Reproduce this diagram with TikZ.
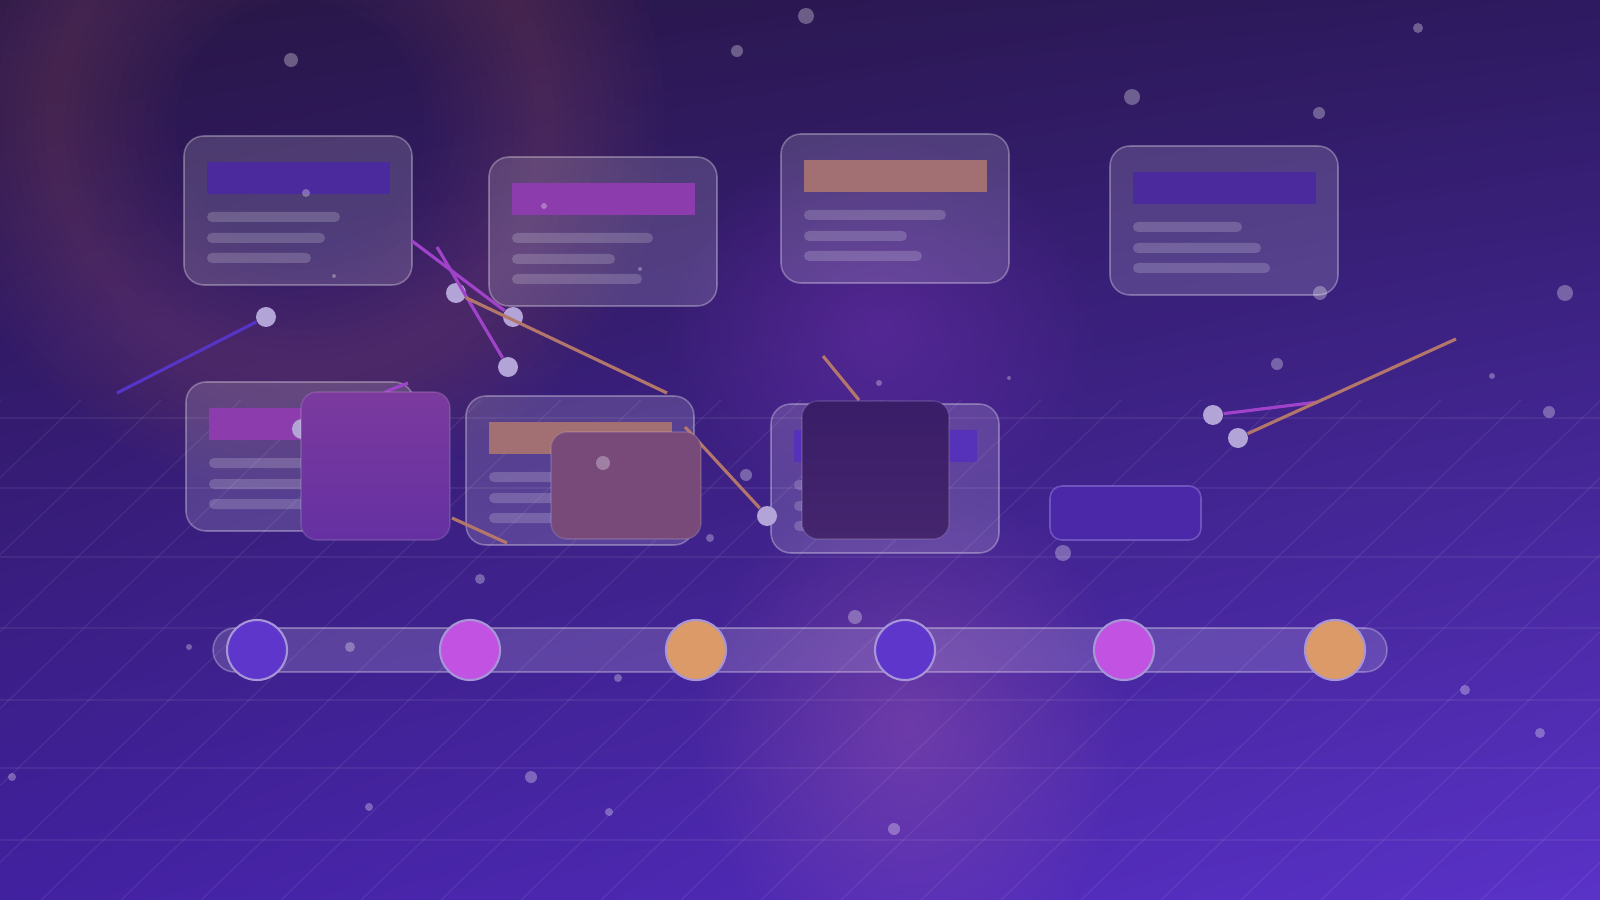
\documentclass[tikz,border=0pt]{standalone}
\usepackage{tikz}
\usetikzlibrary{fadings,shadings}

\definecolor{bgtl}{HTML}{281644}
\definecolor{bgtr}{HTML}{2D1A60}
\definecolor{bgbl}{HTML}{4221A0}
\definecolor{bgbr}{HTML}{5A32C8}
\definecolor{ringmauve}{HTML}{7A4A68}
\definecolor{glowviolet}{HTML}{7030B0}
\definecolor{glowpink}{HTML}{9A55B0}
\definecolor{hdindigo}{HTML}{4B2A9E}
\definecolor{hdmagenta}{HTML}{8C3CAC}
\definecolor{hdsalmon}{HTML}{A27072}
\definecolor{hdblue}{HTML}{5632BA}
\definecolor{lineindigo}{HTML}{5634C4}
\definecolor{linemagenta}{HTML}{A042CA}
\definecolor{linesalmon}{HTML}{B2766A}
\definecolor{dotlav}{HTML}{B2A4D6}
\definecolor{ringlav}{HTML}{A696D8}
\definecolor{msindigo}{HTML}{5F36CC}
\definecolor{msmagenta}{HTML}{C252E2}
\definecolor{msorange}{HTML}{DB9A68}
\definecolor{sqpurpletop}{HTML}{7B3A9E}
\definecolor{sqpurple}{HTML}{6530A2}
\definecolor{sqmauve}{HTML}{774A7A}
\definecolor{sqdarktop}{HTML}{3A1D68}
\definecolor{sqdark}{HTML}{44256E}
\definecolor{pillfill}{HTML}{4A28A8}
\definecolor{pillline}{HTML}{6E54BC}

\tikzfading[name=glowfade, inner color=transparent!0, outer color=transparent!100]

\newcommand{\glasscard}[6]{%
	\draw[cardbox] (#1,#2) rectangle ++(228,149);
	\fill[#3] (#1+23,#2+26) rectangle ++(183,32);
	\fill[textbar] (#1+23,#2+76) rectangle ++(#4,10);
	\fill[textbar] (#1+23,#2+97) rectangle ++(#5,10);
	\fill[textbar] (#1+23,#2+117) rectangle ++(#6,10);
}

\begin{document}
\begin{tikzpicture}[x=0.1mm, y=-0.1mm,
	cardbox/.style={fill=white, fill opacity=0.15, draw=white, draw opacity=0.3, line width=0.45pt, rounded corners=2mm},
	textbar/.style={fill=white, fill opacity=0.18, rounded corners=0.5mm},
	gridline/.style={white, opacity=0.08, line width=0.3pt},
	speck/.style={fill=white, fill opacity=0.3},
	bigdot/.style={circle, fill=dotlav, inner sep=0pt, minimum size=2mm},
	link/.style={line width=0.9pt},
	milestone/.style={draw=ringlav, line width=0.6pt},
	overlay box/.style={draw=white, draw opacity=0.12, line width=0.45pt, rounded corners=1.6mm}]
	\useasboundingbox (0,0) rectangle (1600,900);

	% background and glows
	\shade[upper left=bgtl, upper right=bgtr, lower left=bgbl, lower right=bgbr] (0,0) rectangle (1600,900);
	\begin{scope}
		\clip (0,0) rectangle (1600,900);
		\foreach \w in {2,4,...,24}
			\draw[ringmauve, opacity=0.04, line width=\w mm] (300,125) circle (245);
	\end{scope}
	\fill[glowviolet, opacity=0.5, path fading=glowfade] (880,330) ellipse (220 and 200);
	\fill[glowpink, opacity=0.45, path fading=glowfade] (910,730) ellipse (220 and 260);

	\begin{scope}
		\clip (0,400) rectangle (1600,900);
		\foreach \x in {-599,-519,...,1601}
			\draw[gridline] (\x,900) -- ++(520,-500);
	\end{scope}
	\foreach \y in {418,488,557,628,700,768,840}
		\draw[gridline, opacity=0.06] (0,\y) -- (1600,\y);

	% cards
	\glasscard{184}{136}{hdindigo}{133}{118}{104}
	\glasscard{489}{157}{hdmagenta}{141}{103}{130}
	\glasscard{781}{134}{hdsalmon}{142}{103}{118}
	\glasscard{1110}{146}{hdindigo}{109}{128}{137}
	\glasscard{186}{382}{hdmagenta}{130}{118}{104}
	\glasscard{466}{396}{hdsalmon}{130}{118}{104}
	\glasscard{771}{404}{hdblue}{130}{118}{104}

	% timeline
	\draw[fill=white, fill opacity=0.15, draw=white, draw opacity=0.28, line width=0.45pt, rounded corners=2.2mm] (213,628) rectangle (1387,672);
	\foreach \x/\c in {257/msindigo, 470/msmagenta, 696/msorange, 905/msindigo, 1124/msmagenta, 1335/msorange}
		\draw[milestone, fill=\c] (\x,650) circle (30);

	% dots and links
	\node[bigdot] (p1) at (266,317) {};
	\node[bigdot] (p2) at (513,317) {};
	\node[bigdot] (p3) at (508,367) {};
	\node[bigdot] (p4) at (456,293) {};
	\node[bigdot] (p5) at (767,516) {};
	\node[bigdot] (p6) at (1213,415) {};
	\node[bigdot] (p7) at (1238,438) {};
	\node[bigdot] (p8) at (302,429) {};

	\coordinate (q1) at (117,393);
	\coordinate (q2) at (412,241);
	\coordinate (q3) at (437,247);
	\coordinate (q4) at (667,393);
	\coordinate (q5) at (685,427);
	\coordinate (q6) at (1318,402);
	\coordinate (q7) at (1456,339);
	\coordinate (r1) at (385,392);
	\coordinate (r2) at (408,383);
	\coordinate (r3) at (452,518);
	\coordinate (r4) at (507,543);
	\coordinate (r5) at (823,356);
	\coordinate (r6) at (859,400);

	\draw[link, lineindigo] (q1) -- (p1);
	\draw[link, linemagenta] (q2) -- (p2);
	\draw[link, linemagenta] (q3) -- (p3);
	\draw[link, linesalmon] (p4) -- (q4);
	\draw[link, linemagenta] (r1) -- (r2);
	\draw[link, linesalmon] (r3) -- (r4);
	\draw[link, linesalmon] (q5) -- (p5);
	\draw[link, linesalmon] (r5) -- (r6);
	\draw[link, linemagenta] (p6) -- (q6);
	\draw[link, linesalmon] (p7) -- (q7);

	% overlapping boxes
	\draw[overlay box, top color=sqpurpletop, bottom color=sqpurple] (301,392) rectangle (450,540);
	\draw[overlay box, fill=sqmauve] (551,432) rectangle (701,539);
	\draw[overlay box, top color=sqdarktop, bottom color=sqdark] (802,401) rectangle (949,539);
	\draw[draw=pillline, fill=pillfill, line width=0.45pt, rounded corners=1.2mm] (1050,486) rectangle (1201,540);

	% specks
	\foreach \x/\y/\r in {291/60/7, 806/16/8, 737/51/6, 1418/28/5, 1132/97/8, 1319/113/6, 1565/293/8,
		1320/293/7, 1277/364/6, 1492/376/3, 1549/412/6, 1009/378/2, 879/383/3, 746/475/6, 710/538/4,
		603/463/7, 480/579/5, 1063/553/8, 855/617/7, 189/647/3, 350/647/5, 618/678/4, 1465/690/5,
		1540/733/5, 12/777/4, 531/777/6, 369/807/4, 609/812/4, 894/829/6, 306/193/4, 334/276/2,
		544/206/3, 640/269/2}
		\fill[speck] (\x,\y) circle (\r);
\end{tikzpicture}
\end{document}
